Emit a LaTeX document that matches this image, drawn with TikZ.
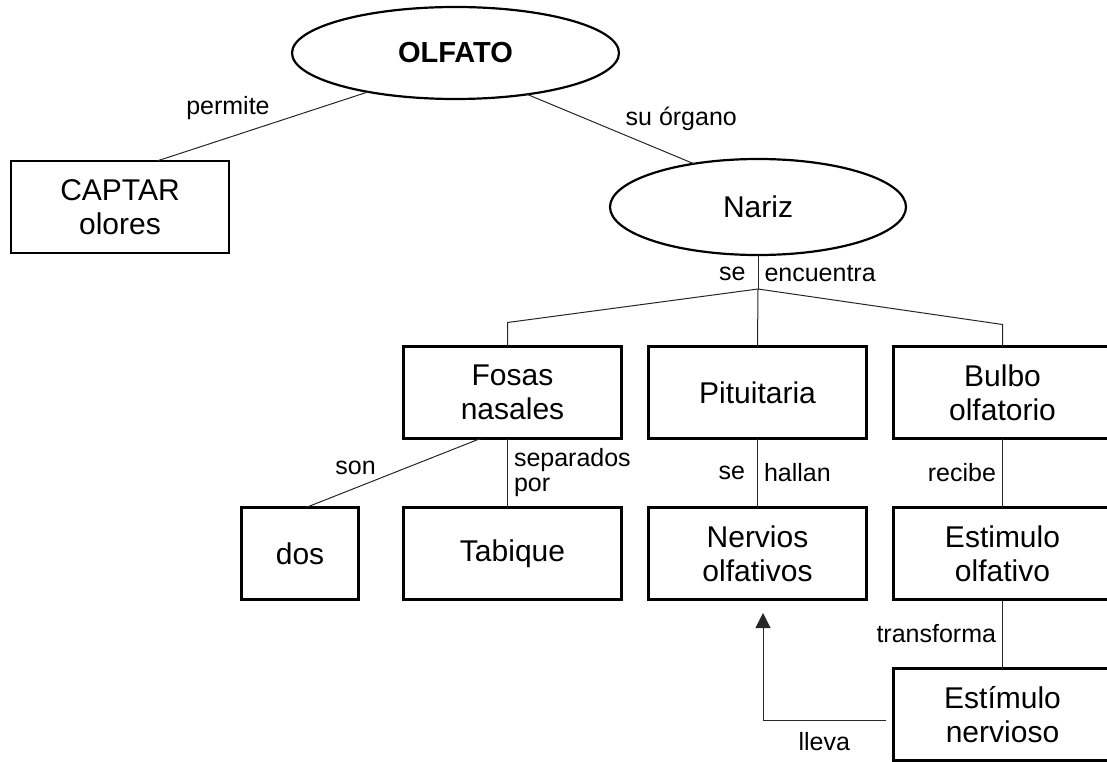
\documentclass[tikz,border=0pt]{standalone}
\usepackage{fontspec}
\setmainfont{Liberation Sans}
\usetikzlibrary{positioning,shapes.geometric,arrows.meta}
\tikzset{
  concept/.style={draw,line width=2.4pt,minimum width=218pt,minimum height=92pt,inner sep=0pt,outer sep=0pt,align=center,font=\fontsize{30}{34}\selectfont},
  bubble/.style={ellipse,draw,line width=2.2pt,inner sep=0pt,outer sep=0pt,font=\fontsize{30}{34}\selectfont},
  link/.style={line width=1pt,black!85},
  word/.style={black,inner sep=6pt,font=\fontsize{25}{25}\selectfont}
}
\begin{document}
\begin{tikzpicture}[x=1pt,y=-1pt]
\clip (0,0) rectangle (1107,762);
% top level
\node[bubble,minimum width=327pt,minimum height=92pt,font=\fontsize{29}{34}\selectfont\bfseries] (olfato) at (455.5,53) {OLFATO};
\node[concept] (captar) at (120,207) {CAPTAR\\olores};
\node[bubble,minimum width=296pt,minimum height=96pt] (nariz) at (758,207) {Nariz};
% second row
\node[concept] (pituitaria) at (757.5,392.5) {Pituitaria};
\node[concept,left=27pt of pituitaria] (fosas) {Fosas\\nasales};
\node[concept,right=27pt of pituitaria] (bulbo) {Bulbo\\olfatorio};
% third row
\node[concept,below=69pt of fosas] (tabique) {Tabique};
\node[concept,minimum width=117pt,left=45pt of tabique] (dos) {dos};
\node[concept,below=69pt of pituitaria] (nervios) {Nervios\\olfativos};
\node[concept,below=69pt of bulbo] (estolf) {Estimulo\\olfativo};
\node[concept,below=69pt of estolf] (estnerv) {Estímulo\\nervioso};
% links
\draw[link] ([xshift=37pt]captar.north) -- (olfato.204) node[word,inner sep=3pt,pos=0.55,anchor=south east] {permite};
\draw[link] (olfato.330) -- (nariz.146) node[word,inner sep=3pt,pos=0.57,anchor=south west] {su órgano};
\coordinate[below=34pt of nariz.south] (split);
\draw[link] (nariz.south) -- (split) node[word,midway,left,xshift=-6pt,yshift=-2pt] {se} node[word,midway,right,yshift=-2pt] {encuentra};
\draw[link] (split) -- ([xshift=-5pt,yshift=24pt]fosas.north) -- ([xshift=-5pt]fosas.north);
\draw[link] (split) -- (pituitaria.north);
\draw[link] (split) -- ([yshift=22pt]bulbo.north) -- (bulbo.north);
\draw[link] ([xshift=-32pt]fosas.south) -- ([xshift=6pt]dos.north) node[word,inner sep=3pt,pos=0.58,anchor=south east] {son};
\draw[link] ([xshift=-5pt]fosas.south) -- ([xshift=-5pt]tabique.north) node[word,midway,right,align=left] {separados\\por};
\draw[link] (pituitaria.south) -- (nervios.north) node[word,midway,left,xshift=-6pt] {se} node[word,midway,right] {hallan};
\draw[link] (bulbo.south) -- (estolf.north) node[word,midway,left] {recibe};
\draw[link] (estolf.south) -- (estnerv.north) node[word,midway,left] {transforma};
\draw[link,-{Triangle[length=15pt,width=15pt]}] ([xshift=-8pt,yshift=-5.5pt]estnerv.west) -| ([xshift=5.5pt,yshift=-13.5pt]nervios.south) node[word,pos=0.25,below=6pt] {lleva};
\end{tikzpicture}
\end{document}
